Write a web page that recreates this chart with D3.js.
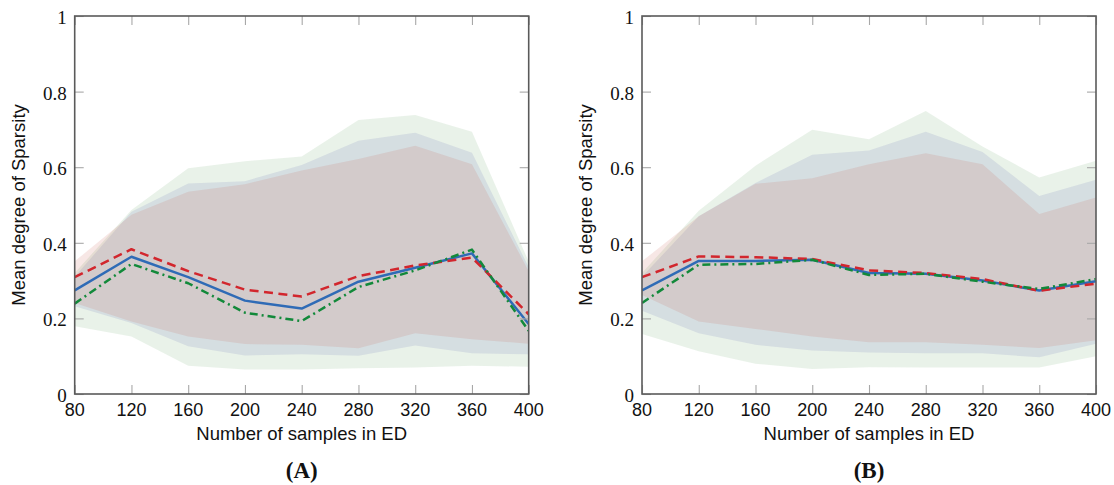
<!DOCTYPE html>
<html>
<head>
<meta charset="utf-8">
<script src="https://cdn.jsdelivr.net/npm/d3@7"></script>
<style>
  html, body { margin: 0; padding: 0; background: #fff; }
  svg { display: block; }
  .serif { font-family: "Liberation Serif", "Times New Roman", serif; }
  .sans { font-family: "Liberation Sans", Arial, sans-serif; }
</style>
</head>
<body>
<svg id="chart" width="1114" height="485"></svg>
<script>
// ---------- data ----------
const xValues = [80, 120, 160, 200, 240, 280, 320, 360, 400];
const xTickLabels = ["80", "120", "160", "200", "240", "280", "320", "360", "400"];
const yTicks = [0, 0.2, 0.4, 0.6, 0.8, 1];
const yTickLabels = ["0", "0.2", "0.4", "0.6", "0.8", "1"];
const xTitle = "Number of samples in ED";
const yTitle = "Mean degree of Sparsity";
const panelLabels = ["(A)", "(B)"];

// Panel A
const aBlueMean   = [0.274, 0.363, 0.309, 0.247, 0.226, 0.297, 0.334, 0.372, 0.185];
const aRedMean    = [0.309, 0.383, 0.325, 0.276, 0.258, 0.312, 0.340, 0.361, 0.211];
const aGreenMean  = [0.239, 0.344, 0.293, 0.215, 0.193, 0.283, 0.327, 0.382, 0.167];
const aGreenUpper = [0.320, 0.487, 0.597, 0.616, 0.628, 0.725, 0.738, 0.694, 0.350];
const aGreenLower = [0.179, 0.152, 0.075, 0.065, 0.065, 0.068, 0.070, 0.075, 0.072];
const aBlueUpper  = [0.310, 0.482, 0.557, 0.563, 0.606, 0.670, 0.691, 0.638, 0.335];
const aBlueLower  = [0.232, 0.188, 0.126, 0.102, 0.105, 0.101, 0.128, 0.108, 0.105];
const aRedUpper   = [0.351, 0.474, 0.535, 0.555, 0.591, 0.622, 0.657, 0.608, 0.325];
const aRedLower   = [0.241, 0.192, 0.152, 0.132, 0.130, 0.121, 0.161, 0.145, 0.133];

// Panel B
const bBlueMean   = [0.274, 0.352, 0.352, 0.355, 0.320, 0.318, 0.300, 0.274, 0.298];
const bRedMean    = [0.309, 0.364, 0.362, 0.357, 0.327, 0.320, 0.304, 0.273, 0.292];
const bGreenMean  = [0.241, 0.342, 0.344, 0.355, 0.315, 0.318, 0.297, 0.278, 0.304];
const bGreenUpper = [0.320, 0.485, 0.604, 0.699, 0.674, 0.749, 0.655, 0.573, 0.617];
const bGreenLower = [0.159, 0.113, 0.080, 0.066, 0.071, 0.070, 0.070, 0.070, 0.100];
const bBlueUpper  = [0.310, 0.470, 0.558, 0.633, 0.644, 0.694, 0.640, 0.524, 0.567];
const bBlueLower  = [0.220, 0.161, 0.130, 0.115, 0.110, 0.108, 0.108, 0.097, 0.133];
const bRedUpper   = [0.351, 0.470, 0.556, 0.571, 0.608, 0.637, 0.608, 0.476, 0.520];
const bRedLower   = [0.262, 0.192, 0.172, 0.152, 0.137, 0.137, 0.130, 0.122, 0.142];

const greenFill = "rgb(108,168,108)";
const blueFill = "rgb(100,110,180)";
const redFill = "rgb(200,95,80)";

const panels = [
  { label: panelLabels[0], left: 74.7,
    bands: [
      { upper: aGreenUpper, lower: aGreenLower, fill: greenFill },
      { upper: aBlueUpper,  lower: aBlueLower,  fill: blueFill },
      { upper: aRedUpper,   lower: aRedLower,   fill: redFill }
    ],
    lines: [
      { values: aBlueMean,  color: "#2f6bb6", dash: null, width: 2.5 },
      { values: aRedMean,   color: "#d2262d", dash: "9,5.5", width: 2.5 },
      { values: aGreenMean, color: "#12893a", dash: "8,4,2,4", width: 2.5 }
    ] },
  { label: panelLabels[1], left: 642,
    bands: [
      { upper: bGreenUpper, lower: bGreenLower, fill: greenFill },
      { upper: bBlueUpper,  lower: bBlueLower,  fill: blueFill },
      { upper: bRedUpper,   lower: bRedLower,   fill: redFill }
    ],
    lines: [
      { values: bBlueMean,  color: "#2f6bb6", dash: null, width: 2.5 },
      { values: bRedMean,   color: "#d2262d", dash: "9,5.5", width: 2.5 },
      { values: bGreenMean, color: "#12893a", dash: "8,4,2,4", width: 2.5 }
    ] }
];

// ---------- layout ----------
const plotW = 454, plotTop = 16, plotBottom = 394;
const svg = d3.select("#chart");
const defs = svg.append("defs");

panels.forEach((p, pi) => {
  const x = d3.scaleLinear().domain([80, 400]).range([p.left, p.left + plotW]);
  const y = d3.scaleLinear().domain([0, 1]).range([plotBottom, plotTop]);
  const g = svg.append("g");

  const clipId = "clip" + pi;
  defs.append("clipPath").attr("id", clipId)
    .append("rect").attr("x", p.left).attr("y", plotTop)
    .attr("width", plotW).attr("height", plotBottom - plotTop);

  const content = g.append("g").attr("clip-path", `url(#${clipId})`);

  p.bands.forEach(b => {
    const area = d3.area()
      .x((d, i) => x(xValues[i]))
      .y0((d, i) => y(b.lower[i]))
      .y1((d, i) => y(b.upper[i]));
    content.append("path").datum(b.upper)
      .attr("d", area).attr("fill", b.fill).attr("fill-opacity", 0.15);
  });

  p.lines.forEach(l => {
    const line = d3.line().x((d, i) => x(xValues[i])).y(d => y(d));
    content.append("path").datum(l.values)
      .attr("d", line).attr("fill", "none")
      .attr("stroke", l.color).attr("stroke-width", l.width)
      .attr("stroke-dasharray", l.dash)
      .attr("stroke-linejoin", "round");
  });

  // ticks (inward, all four sides)
  const tickLen = 9, tickColor = "#a8a8a8";
  const xAxisB = d3.axisBottom(x).tickValues(xValues).tickSize(-tickLen).tickFormat("");
  const xAxisT = d3.axisTop(x).tickValues(xValues).tickSize(-tickLen).tickFormat("");
  const yAxisL = d3.axisLeft(y).tickValues(yTicks).tickSize(-tickLen).tickFormat("");
  const yAxisR = d3.axisRight(y).tickValues(yTicks).tickSize(-tickLen).tickFormat("");
  [[xAxisB, `translate(0,${plotBottom})`], [xAxisT, `translate(0,${plotTop})`],
   [yAxisL, `translate(${p.left},0)`], [yAxisR, `translate(${p.left + plotW},0)`]]
    .forEach(([ax, tr]) => {
      const a = g.append("g").attr("transform", tr).call(ax);
      a.select(".domain").remove();
      a.selectAll("line").attr("stroke", tickColor).attr("stroke-width", 1.1);
    });

  // frame
  g.append("rect").attr("x", p.left).attr("y", plotTop)
    .attr("width", plotW).attr("height", plotBottom - plotTop)
    .attr("fill", "none").attr("stroke", "#5a5a5a").attr("stroke-width", 1.6);

  // x tick labels
  g.selectAll(".xl").data(xValues).enter().append("text")
    .attr("class", "sans")
    .attr("x", d => x(d)).attr("y", plotBottom + 22)
    .attr("text-anchor", "middle")
    .attr("font-size", 18).attr("fill", "#111")
    .text((d, i) => xTickLabels[i]);

  // y tick labels
  g.selectAll(".yl").data(yTicks).enter().append("text")
    .attr("class", "serif")
    .attr("x", p.left - 8).attr("y", d => y(d) + 8)
    .attr("text-anchor", "end")
    .attr("font-size", 19).attr("fill", "#111")
    .text((d, i) => yTickLabels[i]);

  // axis titles
  g.append("text")
    .attr("class", "sans")
    .attr("x", p.left + plotW / 2).attr("y", 440)
    .attr("text-anchor", "middle")
    .attr("font-size", 18.5).attr("fill", "#111")
    .text(xTitle);

  g.append("text")
    .attr("class", "sans")
    .attr("transform", `translate(${p.left - 50},${(plotTop + plotBottom) / 2}) rotate(-90)`)
    .attr("text-anchor", "middle")
    .attr("font-size", 18.5).attr("fill", "#111")
    .text(yTitle);

  // panel label
  g.append("text")
    .attr("class", "serif")
    .attr("x", p.left + plotW / 2).attr("y", 478)
    .attr("text-anchor", "middle")
    .attr("font-weight", "bold")
    .attr("font-size", 23).attr("fill", "#111")
    .text(p.label);
});
</script>
</body>
</html>
